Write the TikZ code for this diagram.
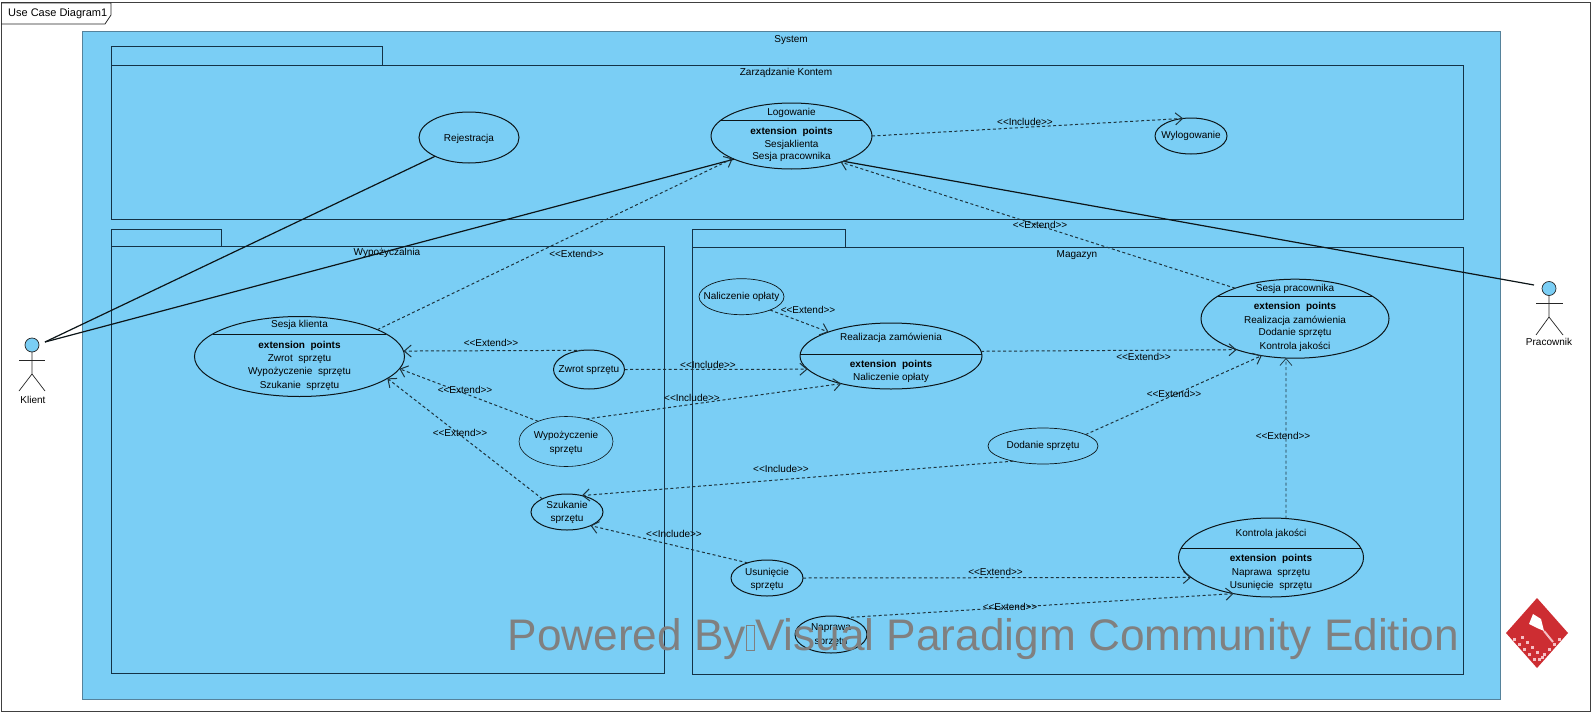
\documentclass[tikz,border=0pt]{standalone}
\usepackage{fontspec}
\setmainfont{Liberation Sans}
\usetikzlibrary{shapes.geometric,arrows.meta}
\definecolor{sysblue}{RGB}{122,206,245}
\definecolor{pkgline}{RGB}{20,50,70}
\definecolor{sysline}{RGB}{85,130,155}
\definecolor{markgray}{RGB}{128,128,128}
\definecolor{logored}{RGB}{205,45,50}
\definecolor{logopink}{RGB}{245,190,195}
\tikzset{
    >={Straight Barb[length=7pt,width=12pt]},
    uc/.style={draw=black!90!sysblue, ellipse, inner sep=0pt, outer sep=0pt, line width=1pt},
    sep/.style={draw=black!90!sysblue, line width=1pt},
    pkg/.style={draw=pkgline, fill=sysblue, line width=1pt},
    txt/.style={font=\fontsize{10}{12}\selectfont, inner sep=0pt, text=black},
    boldtxt/.style={font=\fontsize{10}{12}\selectfont\bfseries, inner sep=0pt, text=black},
    dep/.style={->, dashed, dash pattern=on 3pt off 2.5pt, line width=1pt, draw=black!75!sysblue},
    assoc/.style={line width=1.2pt, draw=black!90!sysblue},
    stick/.style={line width=0.7pt, draw=black!85}
}
\newcommand{\extendlbl}{<{}<Extend>{}>}
\newcommand{\includelbl}{<{}<Include>{}>}
\newcommand{\tofu}{\setlength{\fboxsep}{0pt}\setlength{\fboxrule}{1pt}\fbox{\rule{0pt}{24pt}\hspace{7pt}}}
\begin{document}
\begin{tikzpicture}[x=1pt,y=-1pt]
    \useasboundingbox (0,0) rectangle (1594,717);
    \fill[white] (0,0) rectangle (1594,717);
    \draw[black!75, line width=1pt] (1,3) rectangle (1590,711);
    \draw[black!85, line width=0.8pt] (1,3) -- (111,3) -- (111,15) -- (105,24) -- (1,24);
    \node[txt, font=\fontsize{11}{13}\selectfont, anchor=west] (frameName) at (8,14) {Use Case Diagram1};

    \draw[sysline, fill=sysblue, line width=1pt] (82,32) rectangle (1500.5,699);
    \node[txt] (sysName) at (791,40) {System};

    \draw[pkg] (111,47) rectangle (382,65);
    \draw[pkg] (111,65) rectangle (1463,219);
    \node[txt] (kontoName) at (786,73) {Zarządzanie Kontem};
    \draw[pkg] (111,229) rectangle (221,246);
    \draw[pkg] (111,246) rectangle (664,673);
    \node[txt] (wypName) at (387,253) {Wypożyczalnia};
    \draw[pkg] (692,229) rectangle (845,247);
    \draw[pkg] (692,247) rectangle (1463,674);
    \node[txt] (magName) at (1077,255) {Magazyn};

    \node[uc, minimum width=100pt, minimum height=51pt] (rej) at (469,137.5) {};
    \node[txt] at (469,139) {Rejestracja};

    \node[uc, minimum width=161pt, minimum height=66pt] (log) at (791.5,136) {};
    \draw[sep] (721.1,120) -- (861.9,120);
    \node[txt] at (791.5,113) {Logowanie};
    \node[boldtxt] at (791.5,132) {extension\ \ points};
    \node[txt] at (791.5,145) {Sesjaklienta};
    \node[txt] at (791.5,157) {Sesja pracownika};

    \node[uc, minimum width=72pt, minimum height=36pt] (wyl) at (1191,136) {};
    \node[txt] at (1191,136) {Wylogowanie};

    \node[uc, minimum width=210pt, minimum height=80pt] (ske) at (299.5,356.5) {};
    \draw[sep] (212.7,334) -- (386.3,334);
    \node[txt] at (299.5,325) {Sesja klienta};
    \node[boldtxt] at (299.5,346) {extension\ \ points};
    \node[txt] at (299.5,359) {Zwrot\ \ sprzętu};
    \node[txt] at (299.5,372) {Wypożyczenie\ \ sprzętu};
    \node[txt] at (299.5,386) {Szukanie\ \ sprzętu};

    \node[uc, minimum width=71pt, minimum height=39pt] (zwr) at (589,369.5) {};
    \node[txt] at (589,370) {Zwrot sprzętu};

    \node[uc, minimum width=94pt, minimum height=50pt, line width=0.6pt] (wyp) at (566,441.5) {};
    \node[txt] at (566,436) {Wypożyczenie};
    \node[txt] at (566,450) {sprzętu};

    \node[uc, minimum width=72pt, minimum height=36pt] (szu) at (567,512) {};
    \node[txt] at (567,505) {Szukanie};
    \node[txt] at (567,519) {sprzętu};

    \node[uc, minimum width=72pt, minimum height=36pt] (usu) at (767,578) {};
    \node[txt] at (767,573) {Usunięcie};
    \node[txt] at (767,586) {sprzętu};

    \node[uc, minimum width=72pt, minimum height=37pt] (nap) at (831,634.5) {};
    \node[txt] at (831,628) {Naprawa};
    \node[txt] at (831,642) {sprzętu};

    \node[uc, minimum width=85pt, minimum height=36pt, line width=0.7pt] (nal) at (741.5,296.7) {};
    \node[txt] at (741.5,297) {Naliczenie opłaty};

    \node[uc, minimum width=182pt, minimum height=66pt] (rea) at (891,356) {};
    \draw[sep] (800.2,354) -- (981.8,354);
    \node[txt] at (891,338) {Realizacja zamówienia};
    \node[boldtxt] at (891,365) {extension\ \ points};
    \node[txt] at (891,378) {Naliczenie opłaty};

    \node[uc, minimum width=188pt, minimum height=79pt] (spr) at (1295,318.7) {};
    \draw[sep] (1217.6,296) -- (1372.4,296);
    \node[txt] at (1295,289) {Sesja pracownika};
    \node[boldtxt] at (1295,307) {extension\ \ points};
    \node[txt] at (1295,321) {Realizacja zamówienia};
    \node[txt] at (1295,333) {Dodanie sprzętu};
    \node[txt] at (1295,347) {Kontrola jakości};

    \node[uc, minimum width=110pt, minimum height=36pt, line width=0.7pt] (dod) at (1043,446) {};
    \node[txt] at (1043,446) {Dodanie sprzętu};

    \node[uc, minimum width=185pt, minimum height=79pt] (kon) at (1271,557.5) {};
    \draw[sep] (1181.1,548) -- (1360.9,548);
    \node[txt] at (1271,534) {Kontrola jakości};
    \node[boldtxt] at (1271,559) {extension\ \ points};
    \node[txt] at (1271,573) {Naprawa\ \ sprzętu};
    \node[txt] at (1271,586) {Usunięcie\ \ sprzętu};

    \node[stick, draw, ellipse, fill=sysblue, minimum width=14pt, minimum height=14pt, inner sep=0pt, outer sep=0pt] (klHead) at (32,345) {};
    \draw[stick] (klHead.south) -- (32,374) -- (19,391);
    \draw[stick] (32,374) -- (45,391);
    \draw[stick] (19,360) -- (45,360);
    \node[txt] (klient) at (33,400) {Klient};
    \coordinate (klHand) at (45,342);

    \node[stick, draw, ellipse, fill=sysblue, minimum width=14pt, minimum height=14pt, inner sep=0pt, outer sep=0pt] (prHead) at (1549,288.5) {};
    \draw[stick] (prHead.south) -- (1549,317) -- (1536,335);
    \draw[stick] (1549,317) -- (1563,335);
    \draw[stick] (1536,303) -- (1563,303);
    \node[txt] (pracownik) at (1549,342) {Pracownik};
    \coordinate (prHand) at (1534,285);

    \draw[assoc] (klHand) -- (rej.209);
    \draw[assoc] (klHand) -- (log.202.2);
    \draw[assoc] (prHand) -- (log.-26);

    \draw[dep] (ske.19) -- (log.201.3);
    \draw[dep] (log.0) -- (wyl.114);
    \draw[dep] (spr.153.6) -- (log.-28);
    \draw[dep] (zwr.109.7) -- (ske.3.6);
    \draw[dep] (zwr.0) -- (rea.189.8);
    \draw[dep] (wyp.144.4) -- (ske.-7.4);
    \draw[dep] (wyp.48.2) -- (rea.209.2);
    \draw[dep] (szu.152.7) -- (ske.-14.9);
    \draw[dep] (dod.207.4) -- (szu.48.4);
    \draw[dep] (usu.142.7) -- (szu.-30.6);
    \draw[dep] (usu.0) -- (kon.194.7);
    \draw[dep] (nap.49.7) -- (kon.224.6);
    \draw[dep] (nal.-25) -- (rea.159.3);
    \draw[dep] (rea.3.8) -- (spr.208.8);
    \draw[dep] (dod.15.9) -- (spr.228.2);
    \draw[dep, line width=0.7pt] (kon.69.2) -- (spr.257.4);

    \node[txt] at (576.5,254) {\extendlbl};
    \node[txt] at (1025,122) {\includelbl};
    \node[txt] at (1040,225) {\extendlbl};
    \node[txt] at (491,343) {\extendlbl};
    \node[txt] at (708,365) {\includelbl};
    \node[txt] at (465,390) {\extendlbl};
    \node[txt] at (692,398) {\includelbl};
    \node[txt] at (460,433) {\extendlbl};
    \node[txt] at (781,469) {\includelbl};
    \node[txt] at (674,534) {\includelbl};
    \node[txt] at (995.5,572) {\extendlbl};
    \node[txt] at (1010,607) {\extendlbl};
    \node[txt] at (808,310) {\extendlbl};
    \node[txt] at (1143.5,357) {\extendlbl};
    \node[txt] at (1174,394) {\extendlbl};
    \node[txt] at (1283,436) {\extendlbl};

    \node[anchor=base west, inner sep=0pt, text=markgray, font=\fontsize{44.2}{50}\selectfont] (mark) at (507.5,650) {Powered By\tofu Visual Paradigm Community Edition};

    \fill[logored] (1537,598) -- (1568,633) -- (1537,668) -- (1506,633) -- cycle;
    \fill[white] (1533,614) -- (1541,619) -- (1544,631) -- (1537,628) -- (1529,624) -- cycle;
    \draw[logopink, line width=2pt] (1544,631) -- (1553,642);
    \foreach \i in {0,...,4} {
        \fill[logopink] (1513+5*\i,638+5*\i) rectangle +(3,3);
        \fill[logopink] (1558-5*\i,638+5*\i) rectangle +(3,3);
        \fill[logopink] (1521+5*\i,636+5*\i) rectangle +(2.5,2.5);
    }
\end{tikzpicture}
\end{document}
